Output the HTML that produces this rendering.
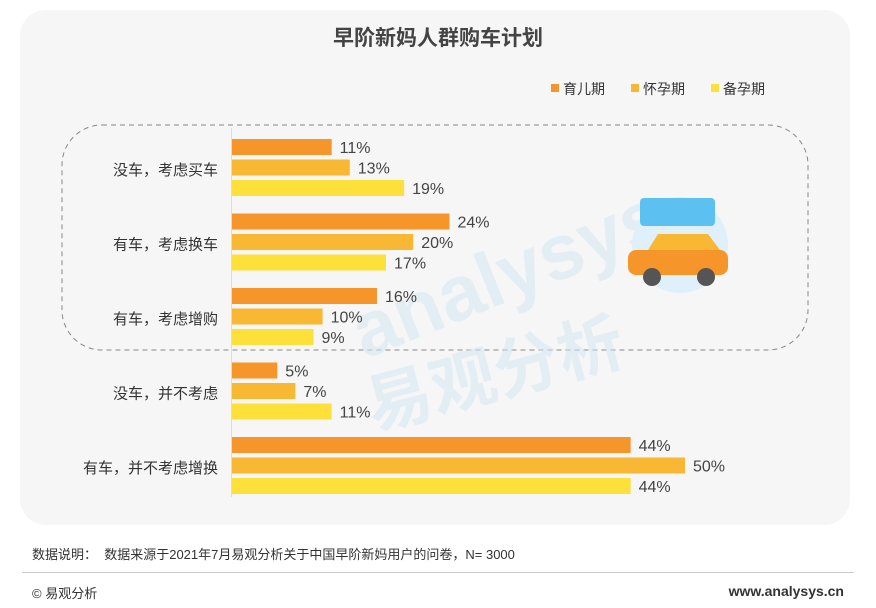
<!DOCTYPE html>
<html><head><meta charset="utf-8"><style>
body{margin:0;width:876px;height:608px;background:#fff;font-family:"Liberation Sans","Noto Sans CJK SC",sans-serif;overflow:hidden;position:relative}
.card{position:absolute;left:20px;top:10px;width:830px;height:515px;background:#f6f6f6;border-radius:26px}
.t{position:absolute;white-space:nowrap}
</style></head><body>
<div class="card"></div>
<div class="t" style="left:0;width:876px;text-align:center;top:22px;font-size:21px;font-weight:bold;color:#444">早阶新妈人群购车计划</div>
<svg id="chart" width="876" height="608" style="position:absolute;left:0;top:0">
<rect x="62" y="125" width="746" height="225" rx="40" fill="none" stroke="#888" stroke-dasharray="5,4" stroke-width="1"/>
<line x1="231.5" y1="128" x2="231.5" y2="497" stroke="#ddd"/>
<g fill="#d5e6f3" opacity="0.55" font-weight="bold">
<text x="330" y="300" font-size="78" transform="rotate(-22 500 240)">analysys</text>
<text x="360" y="390" font-size="66" transform="rotate(-15 520 360)">易观分析</text>
</g>
<g>
<circle cx="680" cy="245" r="48" fill="#dff0fb"/>
<rect x="640" y="198" width="75" height="28" rx="4" fill="#5cc0f0"/>
<rect x="628" y="250" width="100" height="25" rx="8" fill="#f5952a"/>
<path d="M648 250 L658 234 H708 L720 250 Z" fill="#f8b833"/>
<circle cx="652" cy="277" r="9" fill="#555"/><circle cx="706" cy="277" r="9" fill="#555"/>
</g>
<g id="legend"></g><g id="bars"></g>
</svg>
<div class="t" style="left:32px;top:544px;font-size:13px;color:#333">数据说明：&nbsp;&nbsp;数据来源于2021年7月易观分析关于中国早阶新妈用户的问卷，N= 3000</div>
<div style="position:absolute;left:22px;top:572px;width:832px;border-top:1px solid #ccc"></div>
<div class="t" style="left:32px;top:583px;font-size:13px;color:#333">© 易观分析</div>
<div class="t" style="right:32px;top:583px;font-size:14px;font-weight:bold;color:#333">www.analysys.cn</div>
<script>
const categories=["没车，考虑买车","有车，考虑换车","有车，考虑增购","没车，并不考虑","有车，并不考虑增换"];
const seriesNames=["育儿期","怀孕期","备孕期"];
const s1=[11,24,16,5,44];
const s2=[13,20,10,7,50];
const s3=[19,17,9,11,44];
const colors=["#f5952a","#f8b833","#fde03a"];
const ns="http://www.w3.org/2000/svg";
const x0=232,scale=453/50;
const xs=v=>x0+v*scale;
const gy=i=>139+i*74.5;
const bars=document.getElementById('bars');
function mk(t,a){const e=document.createElementNS(ns,t);for(const k in a)e.setAttribute(k,a[k]);return e;}
[s1,s2,s3].forEach((s,j)=>{
 s.forEach((v,i)=>{
  const y=gy(i)+j*20.5;
  const r=mk('rect',{x:x0,y:y,width:xs(v)-x0,height:16,fill:colors[j]});
  
  
  bars.appendChild(r);
  const t=mk('text',{x:xs(v)+8,y:y+14,'font-size':16,fill:'#444'});
  t.textContent=v+'%';
  
  
  bars.appendChild(t);
 });
});
categories.forEach((c,i)=>{
 const t=mk('text',{x:218,y:gy(i)+36,'font-size':15,fill:'#333','text-anchor':'end'});
 t.textContent=c;
 
 
 bars.appendChild(t);
});
const lg=document.getElementById('legend');
const lx=[551,631,711];
seriesNames.forEach((n,j)=>{
 const r=mk('rect',{x:lx[j],y:84,width:8,height:8,fill:colors[j]});
 
 
 lg.appendChild(r);
 const t=mk('text',{x:lx[j]+12,y:94,'font-size':14,fill:'#333'});
 t.textContent=n;
 
 
 lg.appendChild(t);
});
</script>
</body></html>
